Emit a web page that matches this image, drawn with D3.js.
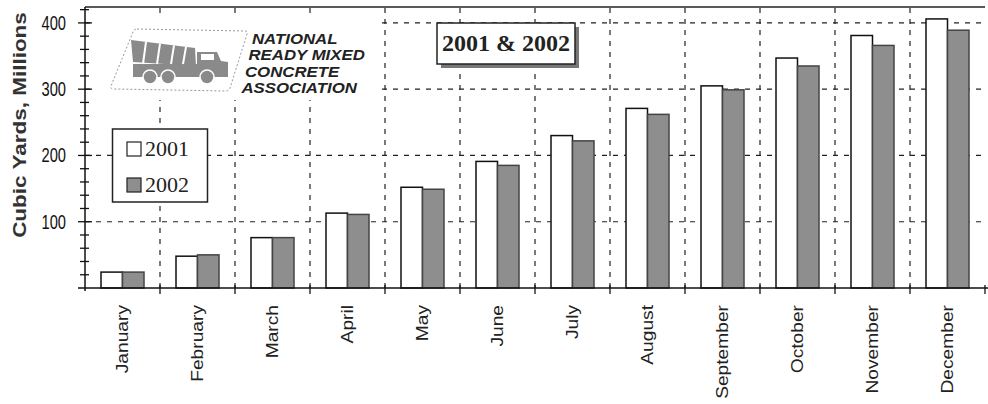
<!DOCTYPE html>
<html>
<head>
<meta charset="utf-8">
<script src="https://cdn.jsdelivr.net/npm/d3@7"></script>
<style>
    body { margin: 0; background: #fff; }
</style>
</head>
<body>
<svg id="chart" width="988" height="404"></svg>
<script>
// data
const months = ["January", "February", "March", "April", "May", "June",
    "July", "August", "September", "October", "November", "December"];
const seriesNames = ["2001", "2002"];
const values2001 = [24, 48, 76, 113, 152, 191, 230, 271, 305, 347, 381, 406];
const values2002 = [24, 50, 76, 111, 149, 185, 222, 262, 299, 335, 366, 389];
const yTickValues = [100, 200, 300, 400];
const titleText = "2001 & 2002";
const yTitle = "Cubic Yards, Millions";
const logoLines = ["NATIONAL", "READY MIXED", "CONCRETE", "ASSOCIATION"];

const colors = {"2001": "#ffffff", "2002": "#8e8e8e"};

const svg = d3.select("#chart");
const margin = {left: 85, right: 3, top: 7, bottom: 116};
const width = 988, height = 404;

const x = d3.scaleBand().domain(months)
    .range([margin.left, width - margin.right]).paddingInner(0).paddingOuter(0);
const xs = d3.scaleBand().domain(seriesNames).range([16, 59]);
const y = d3.scaleLinear().domain([0, 424]).range([height - margin.bottom, margin.top]);

const rows = months.map((m, i) => ({month: m, "2001": values2001[i], "2002": values2002[i]}));

// grid
const grid = svg.append("g").attr("stroke", "#222").attr("stroke-width", 1.2)
    .attr("stroke-dasharray", "5,6");
grid.selectAll("line.h").data(yTickValues).join("line")
    .attr("x1", margin.left).attr("x2", width - margin.right)
    .attr("y1", d => y(d)).attr("y2", d => y(d));
grid.selectAll("line.v").data(months.slice(1)).join("line")
    .attr("x1", d => x(d)).attr("x2", d => x(d))
    .attr("y1", y(0)).attr("y2", margin.top);

// bars
const groups = svg.append("g").selectAll("g").data(rows).join("g")
    .attr("transform", d => `translate(${x(d.month)},0)`);
groups.selectAll("rect").data(d => seriesNames.map(k => ({key: k, value: d[k]}))).join("rect")
    .attr("x", d => xs(d.key)).attr("width", xs.bandwidth())
    .attr("y", d => y(d.value)).attr("height", d => y(0) - y(d.value))
    .attr("fill", d => colors[d.key])
    .attr("stroke", d => d.key === "2001" ? "#111" : "#444")
    .attr("stroke-width", 1.5);

// axes frame
svg.append("line").attr("x1", margin.left).attr("x2", width - margin.right)
    .attr("y1", margin.top).attr("y2", margin.top).attr("stroke", "#222").attr("stroke-width", 1.5);
svg.append("line").attr("x1", margin.left).attr("x2", margin.left)
    .attr("y1", margin.top).attr("y2", y(0) + 3).attr("stroke", "#111").attr("stroke-width", 1.5);
svg.append("line").attr("x1", margin.left - 7).attr("x2", width)
    .attr("y1", y(0)).attr("y2", y(0)).attr("stroke", "#111").attr("stroke-width", 1.5);

// y ticks, minor every 20
const minor = d3.range(20, 424, 20);
svg.append("g").selectAll("line").data(minor).join("line")
    .attr("x1", d => margin.left - (d % 100 === 0 ? 7 : 5))
    .attr("x2", d => margin.left + (d % 100 === 0 ? 7 : 4))
    .attr("y1", d => y(d)).attr("y2", d => y(d))
    .attr("stroke", "#111").attr("stroke-width", 1.3);

svg.append("g").selectAll("text").data(yTickValues).join("text")
    .attr("transform", d => `translate(66,${y(d) + 7}) scale(0.7,1)`)
    .attr("text-anchor", "end")
    .style("font", "21px 'Liberation Sans', Arial, sans-serif")
    .attr("fill", "#111")
    .text(d => d);

// x ticks at band edges
const edges = months.map(m => x(m)).concat([width - margin.right]);
svg.append("g").selectAll("line").data(edges.slice(1)).join("line")
    .attr("x1", d => d).attr("x2", d => d)
    .attr("y1", y(0) - 3).attr("y2", y(0) + 6)
    .attr("stroke", "#111").attr("stroke-width", 1.3);

svg.append("g").selectAll("text").data(months).join("text")
    .attr("transform", d => `translate(${x(d) + x.bandwidth() / 2 + 5},305) rotate(-90) scale(1.2,1)`)
    .attr("text-anchor", "end")
    .style("font", "16px 'Liberation Sans', Arial, sans-serif")
    .attr("fill", "#222")
    .text(d => d);

// y title
svg.append("text")
    .attr("transform", "translate(26,125) rotate(-90) scale(1.25,1)")
    .attr("text-anchor", "middle")
    .style("font", "bold 18px 'Liberation Sans', Arial, sans-serif")
    .attr("fill", "#333")
    .text(yTitle);

// logo
const logo = svg.append("g");
logo.append("rect").attr("x", 92).attr("y", 19).attr("width", 286).attr("height", 81).attr("fill", "#fff");
logo.append("path")
    .attr("d", "M137,29 L245,31 Q248,31 247,34 L230,88 Q229,91 226,91 L114,89 Q110,89 111,86 L133,32 Q134,29 137,29 Z")
    .attr("fill", "none").attr("stroke", "#999").attr("stroke-width", 1).attr("stroke-dasharray", "2,2");
const truck = logo.append("g").attr("fill", "#8a8a8a");
truck.append("path").attr("d", "M131,40 L195,48 L196,66 L133,62 Z");
truck.append("path").attr("d", "M133,64 L197,64 L197,52 L217,52 L221,61 L228,62 L228,77 L133,77 Z");
truck.selectAll("line").data([146, 160, 174, 186]).join("line")
    .attr("x1", d => d).attr("x2", d => d - 3)
    .attr("y1", d => 40 + (d - 131) * 0.125).attr("y2", 64)
    .attr("stroke", "#fff").attr("stroke-width", 2);
logo.append("rect").attr("x", 201).attr("y", 54).attr("width", 13).attr("height", 6).attr("fill", "#fff");
logo.selectAll("circle").data([150, 168, 207]).join("circle")
    .attr("cx", d => d).attr("cy", 77).attr("r", 7)
    .attr("fill", "#8a8a8a").attr("stroke", "#fff").attr("stroke-width", 1.5);
logo.selectAll("text").data(logoLines).join("text")
    .attr("transform", (d, i) => `translate(${252 - i * 3.5},${44 + i * 16.3}) scale(1.2,1)`)
    .style("font", "italic bold 14px 'Liberation Sans', Arial, sans-serif")
    .attr("fill", "#222")
    .text(d => d);

// title box
svg.append("rect").attr("x", 441).attr("y", 27).attr("width", 138).attr("height", 41).attr("fill", "#777");
svg.append("rect").attr("x", 437).attr("y", 23).attr("width", 138).attr("height", 41)
    .attr("fill", "#fff").attr("stroke", "#222").attr("stroke-width", 1.5);
svg.append("text").attr("x", 506).attr("y", 51).attr("text-anchor", "middle")
    .style("font", "bold 24px 'Liberation Serif', 'Times New Roman', serif")
    .attr("fill", "#222")
    .text(titleText);

// legend
const legend = svg.append("g");
legend.append("rect").attr("x", 112.5).attr("y", 129).attr("width", 95).attr("height", 73)
    .attr("fill", "#fff").attr("stroke", "#222").attr("stroke-width", 1.5);
const items = legend.selectAll("g").data(seriesNames).join("g")
    .attr("transform", (d, i) => `translate(127,${142 + i * 36})`);
items.append("rect").attr("width", 14).attr("height", 14)
    .attr("fill", d => colors[d]).attr("stroke", "#222").attr("stroke-width", 1.2);
items.append("text").attr("x", 18).attr("y", 14)
    .style("font", "22px 'Liberation Serif', 'Times New Roman', serif")
    .attr("fill", "#222")
    .text(d => d);
</script>
</body>
</html>
